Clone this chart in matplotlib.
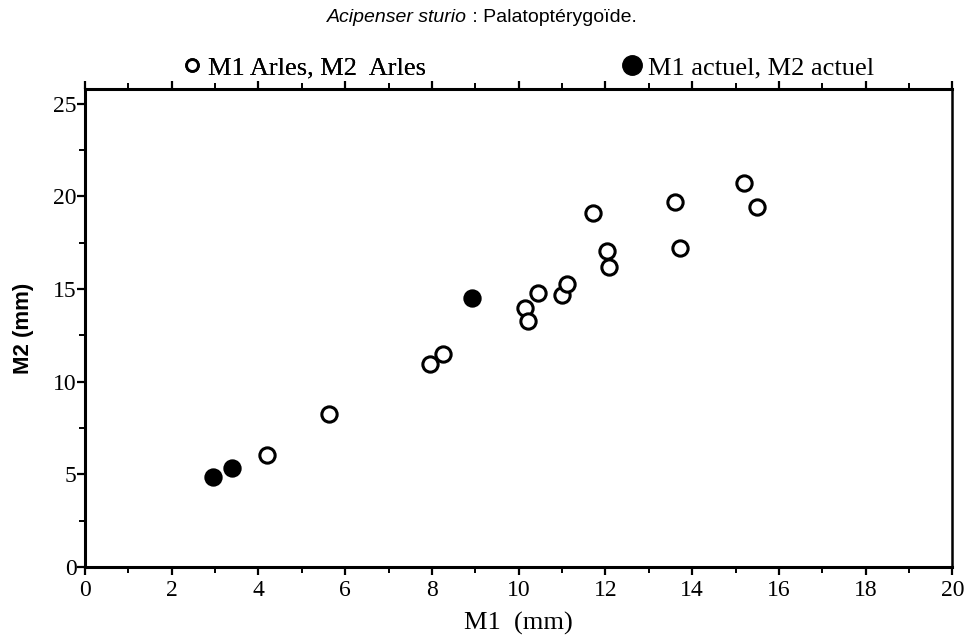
import matplotlib
matplotlib.use("Agg")
import matplotlib.pyplot as plt
from matplotlib.lines import Line2D
from matplotlib.ticker import MultipleLocator

# Data
arles_m1 = [4.19, 5.63, 7.96, 8.26, 10.15, 10.22, 10.45, 11.0, 11.12, 11.72, 12.04, 12.08, 13.6, 13.72, 15.2, 15.49]
arles_m2 = [6.07, 8.28, 10.94, 11.48, 14.0, 13.3, 14.8, 14.7, 15.25, 19.13, 17.05, 16.2, 19.7, 17.19, 20.7, 19.45]
actuel_m1 = [2.96, 3.38, 8.93]
actuel_m2 = [4.87, 5.32, 14.53]

title_italic = "Acipenser sturio"
title_rest = " : Palatoptérygoïde."
legend_arles = "M1 Arles, M2  Arles"
legend_actuel = "M1 actuel, M2 actuel"
xlabel = "M1  (mm)"
ylabel = "M2 (mm)"
xticks = [0, 2, 4, 6, 8, 10, 12, 14, 16, 18, 20]
yticks = [0, 5, 10, 15, 20, 25]

serif = ["Liberation Serif", "DejaVu Serif"]
sans = ["Liberation Sans", "DejaVu Sans"]

fig = plt.figure(figsize=(9.65, 6.35), dpi=100)
ax = fig.add_axes([0.088, 0.107, 0.899, 0.753])

ax.plot(arles_m1, arles_m2, linestyle="none", marker="o", markersize=11,
        markerfacecolor="white", markeredgecolor="black", markeredgewidth=2.2, zorder=3)
ax.plot(actuel_m1, actuel_m2, linestyle="none", marker="o", markersize=11,
        markerfacecolor="black", markeredgecolor="black", markeredgewidth=2.2, zorder=3)

ax.set_xlim(0, 20)
ax.set_ylim(0, 25.8)
ax.set_xticks(xticks)
ax.set_yticks(yticks)
ax.xaxis.set_minor_locator(MultipleLocator(1))
ax.yaxis.set_minor_locator(MultipleLocator(2.5))
ax.set_xticklabels([str(t) for t in xticks], fontfamily=serif, fontsize=17)
ax.set_yticklabels([str(t) for t in yticks], fontfamily=serif, fontsize=17)

ax.tick_params(axis="x", which="major", direction="out", length=6, width=1.6,
               top=True, bottom=True, labeltop=False, pad=3)
ax.tick_params(axis="x", which="minor", direction="out", length=4, width=1.4,
               top=True, bottom=True)
ax.tick_params(axis="y", which="major", direction="out", length=6, width=1.6,
               left=True, right=False, pad=0)
ax.tick_params(axis="y", which="minor", direction="out", length=4, width=1.4,
               left=True, right=False)

for side, lw in [("left", 2.2), ("bottom", 2.2), ("top", 2.2), ("right", 1.8)]:
    ax.spines[side].set_linewidth(lw)

ax.set_xlabel(xlabel, fontfamily=serif, fontsize=19, labelpad=8)
ax.set_ylabel(ylabel, fontfamily=sans, fontsize=16, fontweight="bold", labelpad=14)

# Title with italic species name
t1 = fig.text(0.5, 0.972, title_italic + title_rest, ha="center", va="center",
              fontfamily=sans, fontsize=14, alpha=0)
fig.canvas.draw()
bb = t1.get_window_extent()
x0 = bb.x0 / fig.bbox.width
ti = fig.text(x0, 0.972, title_italic, ha="left", va="center",
              fontfamily=sans, fontsize=14, fontstyle="italic")
fig.canvas.draw()
bbi = ti.get_window_extent()
fig.text(bbi.x1 / fig.bbox.width, 0.972, title_rest, ha="left", va="center",
         fontfamily=sans, fontsize=14)

# Legends above the plot
h1 = Line2D([], [], linestyle="none", marker="o", markersize=8.5,
            markerfacecolor="white", markeredgecolor="black", markeredgewidth=2.0)
h2 = Line2D([], [], linestyle="none", marker="o", markersize=14,
            markerfacecolor="black", markeredgecolor="black", markeredgewidth=1)
leg1 = fig.legend([h1], [legend_arles], loc="center left",
                  bbox_to_anchor=(0.1907, 0.894), frameon=False,
                  prop={"family": serif, "size": 19}, handlelength=0.6,
                  handletextpad=0.3, borderaxespad=0, borderpad=0)
fig.add_artist(leg1)
leg2 = fig.legend([h2], [legend_actuel], loc="center left",
                  bbox_to_anchor=(0.6466, 0.894), frameon=False,
                  prop={"family": serif, "size": 19}, handlelength=0.6,
                  handletextpad=0.3, borderaxespad=0, borderpad=0)

fig.savefig("out.png", dpi=100, facecolor="white")
